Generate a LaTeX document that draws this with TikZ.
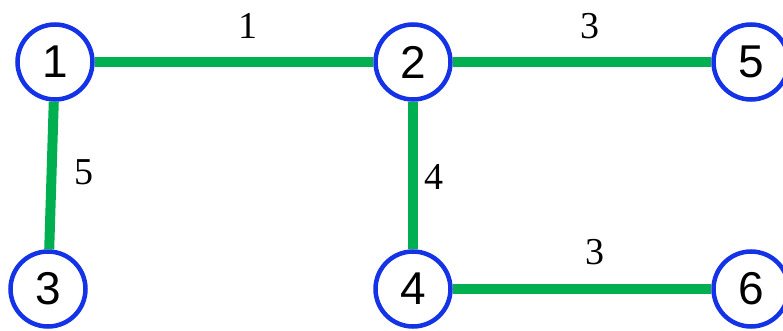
\documentclass[tikz,border=0pt]{standalone}
\usepackage{fontspec}
\setmainfont{Liberation Serif}
\newfontfamily\vertexfont{Liberation Sans}
\usepackage{xcolor}
\usetikzlibrary{positioning}

\definecolor{vblue}{RGB}{20,50,230}
\definecolor{egreen}{RGB}{0,176,80}

\begin{document}
\begin{tikzpicture}[
        x = 1pt, y = -1pt,
        vertex/.style = {circle, draw=vblue, line width=4.5pt, fill=white,
                         minimum size=75pt, inner sep=0pt,
                         font=\vertexfont\fontsize{46}{46}\selectfont},
        edge/.style = {draw=egreen, line width=10pt},
        wt/.style = {inner sep=0pt, font=\fontsize{38}{38}\selectfont}
    ]
    \useasboundingbox (0,0) rectangle (783,331);

    \node[vertex] (v1) at (55,62) {1};
    \node[vertex] (v2) at (413,62) {2};
    \node[vertex] (v5) at (751,62) {5};
    \node[vertex] (v3) at (48,289) {3};
    \node[vertex] (v4) at (413,289) {4};
    \node[vertex] (v6) at (751,289) {6};

    % Edges
    \draw[edge] (v1) -- (v2);
    \draw[edge] (v2) -- (v5);
    \draw[edge] (v1) -- (v3);
    \draw[edge] (v2) -- (v4);
    \draw[edge] (v4) -- (v6);

    % Weights
    \node[wt] (w12) at (248,26) {1};
    \node[wt] (w25) at (590,26) {3};
    \node[wt] (w13) at (84,172) {5};
    \node[wt] (w24) at (434,177) {4};
    \node[wt] (w46) at (595,252) {3};

\end{tikzpicture}
\end{document}
